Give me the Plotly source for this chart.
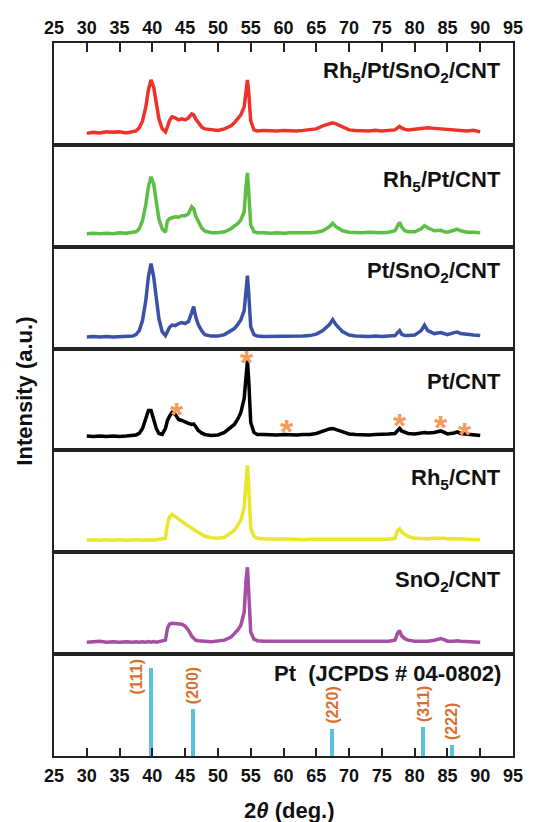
import plotly.graph_objects as go
from plotly.subplots import make_subplots

# ---------------- data ----------------
x_deg = [30, 31, 32, 33, 34, 35, 36, 37, 37.5, 38, 38.5, 39, 39.4, 39.8, 40.2, 40.6, 41, 41.5,
         42, 42.3, 42.6, 43, 43.5, 44, 44.5, 45, 45.5, 46, 46.3, 46.6, 47, 47.5, 48, 49, 50, 51,
         52, 52.5, 53, 53.5, 54, 54.3, 54.5, 54.7, 55, 55.5, 56, 57, 58, 59, 60, 61, 62, 63, 64,
         65, 66, 67, 67.5, 68, 69, 70, 71, 72, 73, 74, 75, 76, 77, 77.4, 77.7, 78, 78.5, 79, 80,
         81, 81.5, 82, 83, 84, 84.5, 85, 86, 86.5, 87, 88, 89, 90]

rh5_pt_sno2_cnt = [11.5, 12.5, 12, 13, 12.5, 13, 12, 13, 14, 17, 24, 38, 55, 65, 58, 42, 26, 16,
                   13, 18, 24, 28, 27, 25, 26, 25, 27, 31, 30, 26, 22, 18, 16, 15, 14.5, 16,
                   19, 22, 26, 30, 38, 58, 65, 52, 24, 15, 14, 14.5, 14, 14, 14.5, 14, 14, 14.5, 15,
                   16, 19, 21.5, 22, 21, 18, 15, 14.5, 14, 14, 14.5, 14, 14.5, 15, 17, 18.5, 17, 15.5, 15, 15.5,
                   16.5, 17, 17, 16.5, 16, 15.5, 15, 14.5, 15, 14.5, 14, 14.5, 13]

rh5_pt_cnt = [13, 13.5, 13, 13.5, 13, 14, 13.5, 14, 15, 18, 26, 42, 60, 70, 63, 45, 28, 18,
              14.5, 26, 28, 29, 30, 29.5, 31, 31, 33, 40, 38, 31, 25, 19, 15.5, 14, 14, 15,
              18, 20, 23, 27, 35, 62, 74, 55, 22, 15, 14, 14, 13.5, 14, 13.5, 14, 14, 13.5, 14,
              14.5, 16, 20, 23.5, 20, 16, 14.5, 14, 14, 14.5, 14, 14, 14.5, 16, 21, 24.5, 20, 16, 15, 15,
              18, 21, 19, 16, 16.5, 15, 14.5, 16, 17.5, 16, 14.5, 14.5, 14]

pt_sno2_cnt = [11.5, 12, 11.5, 12, 11.5, 12, 12, 12.5, 14, 18, 28, 48, 72, 85, 72, 50, 30, 17,
               13, 17, 21, 23.5, 23, 25, 26, 25, 27, 36, 42, 32, 24, 18, 14, 12.5, 12.5, 14,
               17.5, 20, 24, 29, 38, 62, 73, 55, 22, 14, 12.5, 12, 12, 12.5, 12, 12, 12.5, 12.5, 13,
               14.5, 18, 24, 29, 24, 17, 13.5, 12.5, 12, 12, 12.5, 12, 12.5, 13, 16, 18, 14.5, 13, 13, 13.5,
               18, 23.5, 18, 15, 16, 15, 14, 16, 16.5, 15, 14, 13.5, 13]

pt_cnt = [14.5, 14, 14.5, 14, 14.5, 14, 14.5, 15, 15.5, 17, 22, 32, 40, 40, 32, 22, 17, 16,
          22, 30, 34, 38, 36, 31, 30, 28, 27, 26, 26.5, 24, 20, 17.5, 16, 15, 15.5, 18,
          23, 26, 31, 38, 52, 80, 90, 70, 28, 18, 16, 16, 15.5, 15.5, 16, 15.5, 15.5, 16, 16,
          17, 19.5, 21.5, 22, 21, 18.5, 16.5, 16, 15.5, 15.5, 16, 16, 16.5, 17, 20, 22, 19.5, 18, 17, 16.5,
          17.5, 18, 17.5, 18, 19.5, 18, 16.5, 17.5, 18.5, 17, 16.5, 16, 15]

rh5_cnt = [12, 12.5, 12, 12.5, 12, 12.5, 12, 12.5, 12, 12.5, 12, 12.5, 12, 12.5, 12, 12.5, 12.5, 13,
           14, 28, 35, 38, 36, 33, 31, 28.5, 26, 24, 23, 21.5, 20, 18, 16, 14.5, 14, 15,
           19, 22, 27, 32, 45, 75, 87, 65, 24, 16, 14, 13.5, 13, 13, 13.5, 13, 13, 12.5, 13,
           13, 12.5, 13, 12.5, 13, 12.5, 12.5, 13, 12.5, 12.5, 13, 12.5, 13, 14, 22, 23.5, 20.5, 18, 16, 14,
           13.5, 13.5, 13.5, 14, 14.5, 14, 13.5, 13.5, 14, 13.5, 13, 13, 12.5]

sno2_cnt = [12, 12.5, 13, 12, 12.5, 12, 12.5, 12, 12.5, 12, 12.5, 12, 12.5, 12, 12.5, 12, 12.5, 12.5,
            14, 26, 30, 31, 30.5, 30.5, 30, 28, 24, 18, 15.5, 14, 13.5, 13, 13, 12.5, 13, 14,
            17, 20, 24, 29, 42, 75, 87, 62, 22, 15, 13.5, 13, 13, 12.5, 13, 12.5, 12.5, 12.5, 12.5,
            12.5, 12.5, 12.5, 12.5, 12.5, 12.5, 12.5, 12.5, 12.5, 12.5, 12.5, 12.5, 13, 14, 21, 23.5, 18.5, 15.5, 14, 13,
            13, 13, 13, 14, 15.5, 14.5, 13, 13, 13.5, 13, 12.5, 12.5, 12]

series_values = [rh5_pt_sno2_cnt, rh5_pt_cnt, pt_sno2_cnt, pt_cnt, rh5_cnt, sno2_cnt]
series_names = ["Rh<sub>5</sub>/Pt/SnO<sub>2</sub>/CNT", "Rh<sub>5</sub>/Pt/CNT",
                "Pt/SnO<sub>2</sub>/CNT", "Pt/CNT", "Rh<sub>5</sub>/CNT", "SnO<sub>2</sub>/CNT"]
series_colors = ["#EE3229", "#5DBE46", "#3A52A6", "#000000", "#EAE62A", "#A34FA3"]

star_x = [43.8, 54.5, 60.6, 77.8, 84.0, 87.7]
star_y = [43.7, 95.7, 26.3, 32.0, 30.7, 23.7]

ref_name = "Pt  (JCPDS # 04-0802)"
pt_2theta = [39.76, 46.24, 67.45, 81.29, 85.71]
pt_intensity = [100, 53, 31, 33, 12]
pt_hkl = ["(111)", "(200)", "(220)", "(311)", "(222)"]

x_ticks = list(range(25, 96, 5))

# ---------------- layout helpers ----------------
W, H = 534, 822
L, R, T, B = 54, 523, 43, 756
FONT = "Liberation Sans"
LINE = "#222222"


def px_x(px):
    return (px - L) / (R - L)


def px_y(py):
    return (B - py) / (B - T)


n = 7
fig = make_subplots(rows=n, cols=1, shared_xaxes=True, vertical_spacing=0)

for i, (vals, name, col) in enumerate(zip(series_values, series_names, series_colors)):
    fig.add_trace(go.Scatter(x=x_deg, y=vals, mode="lines", name=name,
                             line=dict(color=col, width=3.5), showlegend=False,
                             hoverinfo="skip"), row=i + 1, col=1)

# reference stick pattern
fig.add_trace(go.Bar(x=pt_2theta, y=pt_intensity, width=0.6, marker=dict(color="#5BC3D9", line=dict(width=0)),
                     showlegend=False, hoverinfo="skip"), row=7, col=1)

axis_font = dict(family=FONT, size=18, color="#111111", weight="bold")
for i in range(1, n + 1):
    xa = dict(range=[25, 95], tickvals=x_ticks, showline=True, linecolor=LINE, linewidth=1.5,
              mirror=True, showgrid=False, zeroline=False)
    if i == 1:
        xa.update(side="top", ticks="inside", ticklen=9, tickwidth=1.5, tickcolor=LINE,
                  showticklabels=True, tickfont=axis_font)
    elif i == n:
        xa.update(side="bottom", ticks="inside", ticklen=8, tickwidth=1.5, tickcolor=LINE,
                  showticklabels=True, tickfont=axis_font, ticklabelstandoff=3)
    else:
        xa.update(ticks="", showticklabels=False)
    fig.update_xaxes(row=i, col=1, **xa)
    yr = [0, 102] if i < n else [0, 102 / 0.88]
    fig.update_yaxes(row=i, col=1, range=yr, showline=True, linecolor=LINE, linewidth=1.5,
                     mirror=True, ticks="", showticklabels=False, showgrid=False, zeroline=False)

annotations = []
label_offsets = [28, 35.5, 24, 32, 28, 27.5, 18]  # px from panel top to text centre
panel_h = (B - T) / n
labels = series_names + [ref_name]
for i, (lab, off) in enumerate(zip(labels, label_offsets)):
    top = T + i * panel_h
    annotations.append(dict(text=lab, xref="paper", yref="paper", x=px_x(513), y=px_y(top + off + 1),
                            xanchor="right", yanchor="middle", showarrow=False,
                            font=dict(family=FONT, size=22, color="#111111", weight="bold")))

# asterisks marking the Pt/CNT reflections
for sx, sy in zip(star_x, star_y):
    annotations.append(dict(text="*", xref="x4", yref="y4", x=sx, y=sy, xanchor="center",
                            yanchor="middle", yshift=-7, showarrow=False,
                            font=dict(family=FONT, size=34, color="#F79A5A", weight="bold")))

for k, (tx, ti, hk) in enumerate(zip(pt_2theta, pt_intensity, pt_hkl)):
    annotations.append(dict(text=hk, xref="x7", yref="y7", x=tx, y=ti if k > 0 else 64,
                            xanchor="center", yanchor="bottom", textangle=-90, showarrow=False,
                            xshift=-14 if k == 0 else 0, yshift=3,
                            font=dict(family=FONT, size=16, color="#D9702F", weight="bold")))

annotations.append(dict(text="Intensity (a.u.)", xref="paper", yref="paper", x=px_x(23), y=px_y(391),
                        xanchor="center", yanchor="middle", textangle=-90, showarrow=False,
                        font=dict(family=FONT, size=22, color="#111111", weight="bold")))
annotations.append(dict(text="2<i>θ</i> (deg.)", xref="paper", yref="paper", x=px_x(295), y=px_y(810),
                        xanchor="center", yanchor="middle", showarrow=False,
                        font=dict(family=FONT, size=22, color="#111111", weight="bold")))

fig.update_layout(width=W, height=H, margin=dict(l=L, r=W - R, t=T, b=H - B, pad=0),
                  paper_bgcolor="white", plot_bgcolor="white", annotations=annotations,
                  bargap=0)

fig.write_html("out.html")
